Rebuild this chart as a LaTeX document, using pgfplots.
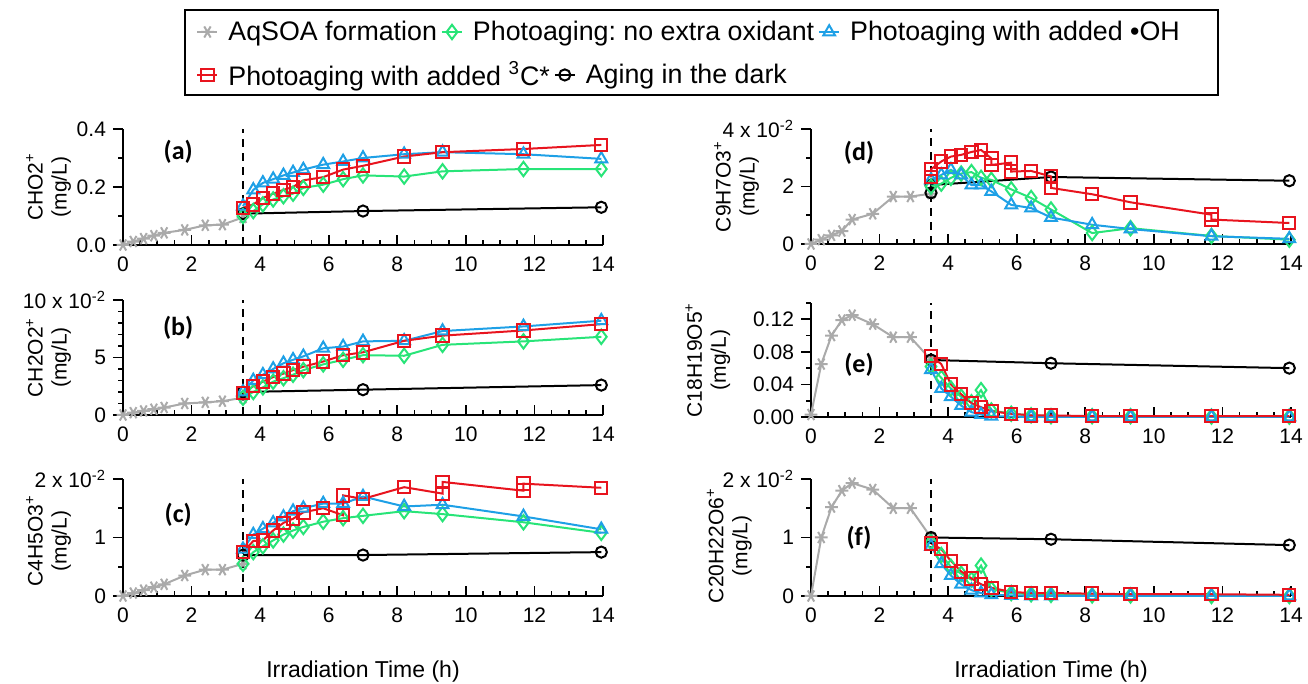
\documentclass[border=0pt]{standalone}
\usepackage{fontspec}
\setmainfont{Liberation Sans}
\newfontfamily\carlito{Carlito}
\usepackage{pgfplots}
\pgfplotsset{compat=1.18}
\frenchspacing
\definecolor{cgray}{RGB}{170,170,170}
\definecolor{cgreen}{RGB}{40,228,120}
\definecolor{cblue}{RGB}{30,160,230}
\definecolor{cred}{RGB}{232,20,30}
\tikzset{plabel/.style={font=\carlito\bfseries\fontsize{13}{15}\selectfont}}
\pgfplotsset{
  gstyle/.style={color=cgray, mark=asterisk, mark size=3.2pt, mark options={rotate=90,solid}, line width=1pt},
  nstyle/.style={color=cgreen, mark=diamond, mark size=3.6pt, mark options={solid}, line width=1pt},
  bstyle/.style={color=cblue, mark=triangle, mark size=3.4pt, mark options={solid}, line width=1pt},
  rstyle/.style={color=cred, mark=square, mark size=3.1pt, mark options={solid}, line width=1pt},
  kstyle/.style={color=black, mark=o, mark size=2.8pt, mark options={solid}, line width=1pt},
  vline/.style={black, dash pattern=on 4pt off 3pt, line width=0.9pt, mark=none, forget plot},
  panel/.style={
    scale only axis, width=240pt,
    xmin=0, xmax=14,
    axis x line=bottom, axis y line=left, axis line style={-, line width=0.9pt},
    xtick={0,2,...,14}, xticklabels={0,2,4,6,8,10,12,14},
    minor x tick num=3,
    xtick align=inside, ytick align=outside,
    major tick length=5pt, minor tick length=2.5pt,
    tick style={black, line width=0.8pt},
    tick label style={font=\fontsize{10.5}{12}\selectfont},
    xticklabel shift=2.5pt,
    ylabel style={align=center, font=\fontsize{10.5}{12}\selectfont, at={(axis description cs:#1)}, anchor=center},
    clip=false,
  },
  panel/.default={-0.155,0.5},
  legimg/.style={legend image code/.code={\draw[mark repeat=2,mark phase=2,##1] plot coordinates {(0pt,0pt) (5pt,0pt) (10pt,0pt)};}},
}
\begin{document}
\begin{tikzpicture}
\useasboundingbox (0,0) rectangle (654pt,342pt);

% ---------------- (a)
\begin{axis}[panel, at={(61.5pt,219.5pt)}, anchor=south west, height=58pt,
  ymin=0, ymax=0.4, ytick={0,0.2,0.4}, yticklabels={0.0,0.2,0.4}, minor ytick={0.1,0.3},
  ylabel={CHO2\textsuperscript{+}\\(mg/L)}]
\addplot[vline] coordinates {(3.5,0) (3.5,0.4)};
\addplot[gstyle] coordinates {(0,0.0)(0.3,0.012)(0.6,0.022)(0.9,0.032)(1.2,0.042)(1.8,0.052)(2.4,0.068)(2.9,0.07)(3.5,0.095)};
\addplot[kstyle] coordinates {(3.5,0.108)(7.0,0.117)(13.95,0.13)};
\addplot[nstyle] coordinates {(3.5,0.10)(3.8,0.117)(4.08,0.14)(4.38,0.157)(4.68,0.168)(4.96,0.177)(5.26,0.197)(5.84,0.208)(6.42,0.227)(7.0,0.24)(8.2,0.236)(9.32,0.254)(11.68,0.262)(13.95,0.262)};
\addplot[bstyle] coordinates {(3.5,0.134)(3.8,0.19)(4.08,0.214)(4.38,0.227)(4.68,0.24)(4.96,0.25)(5.26,0.26)(5.84,0.277)(6.42,0.288)(7.0,0.30)(8.2,0.313)(9.32,0.32)(11.68,0.313)(13.95,0.297)};
\addplot[rstyle] coordinates {(3.5,0.128)(3.8,0.14)(4.08,0.162)(4.38,0.177)(4.68,0.19)(4.96,0.20)(5.26,0.223)(5.84,0.234)(6.42,0.26)(7.0,0.273)(8.2,0.305)(9.32,0.32)(11.68,0.331)(13.95,0.345)};
\node[plabel] at (axis description cs:0.115,0.8) {(a)};
\end{axis}

% ---------------- (b)
\begin{axis}[panel, at={(61.5pt,134.5pt)}, anchor=south west, height=57.5pt,
  ymin=0, ymax=10, ytick={0,5,10}, yticklabels={0,5,{10 x 10\textsuperscript{-2}}}, minor ytick={1,2,3,4,6,7,8,9},
  ylabel={CH2O2\textsuperscript{+}\\(mg/L)}]
\addplot[vline] coordinates {(3.5,0) (3.5,10)};
\addplot[gstyle] coordinates {(0,0)(0.3,0.2)(0.6,0.35)(0.9,0.5)(1.2,0.65)(1.8,1.0)(2.4,1.1)(2.9,1.2)(3.5,1.5)};
\addplot[kstyle] coordinates {(3.5,2.0)(7.0,2.2)(13.95,2.6)};
\addplot[nstyle] coordinates {(3.5,1.5)(3.8,2.0)(4.08,2.4)(4.38,2.9)(4.68,3.2)(4.96,3.5)(5.26,3.9)(5.84,4.4)(6.42,4.8)(7.0,5.2)(8.2,5.15)(9.32,6.1)(11.68,6.4)(13.95,6.8)};
\addplot[bstyle] coordinates {(3.5,2.0)(3.8,3.0)(4.08,3.5)(4.38,4.0)(4.68,4.5)(4.96,4.8)(5.26,5.1)(5.84,5.8)(6.42,5.95)(7.0,6.4)(8.2,6.45)(9.32,7.3)(11.68,7.7)(13.95,8.2)};
\addplot[rstyle] coordinates {(3.5,1.9)(3.8,2.5)(4.08,2.9)(4.38,3.3)(4.68,3.6)(4.96,3.9)(5.26,4.2)(5.84,4.65)(6.42,5.2)(7.0,5.45)(8.2,6.45)(9.32,6.9)(11.68,7.35)(13.95,7.9)};
\node[plabel] at (axis description cs:0.115,0.76) {(b)};
\end{axis}

% ---------------- (c)
\begin{axis}[panel={-0.155,0.47}, at={(61.5pt,44pt)}, anchor=south west, height=58.5pt,
  ymin=0, ymax=2, ytick={0,1,2}, yticklabels={0,1,{2 x 10\textsuperscript{-2}}}, minor ytick={0.5,1.5},
  ylabel={C4H5O3\textsuperscript{+}\\(mg/L)},
  xlabel={Irradiation Time (h)},
  xlabel style={font=\fontsize{11.5}{13}\selectfont, at={(axis description cs:0.5,0)}, anchor=center, yshift=-38pt}]
\addplot[vline] coordinates {(3.5,0) (3.5,2)};
\addplot[gstyle] coordinates {(0,0)(0.3,0.05)(0.6,0.1)(0.9,0.15)(1.2,0.2)(1.8,0.35)(2.4,0.45)(2.9,0.45)(3.5,0.55)};
\addplot[kstyle] coordinates {(3.5,0.7)(7.0,0.7)(13.95,0.75)};
\addplot[nstyle] coordinates {(3.5,0.55)(3.8,0.75)(4.08,0.85)(4.38,0.95)(4.68,1.05)(4.96,1.12)(5.26,1.18)(5.84,1.27)(6.42,1.33)(7.0,1.37)(8.2,1.45)(9.32,1.4)(11.68,1.26)(13.95,1.08)};
\addplot[bstyle] coordinates {(3.5,0.8)(3.8,1.05)(4.08,1.15)(4.38,1.25)(4.68,1.35)(4.96,1.45)(5.26,1.5)(5.84,1.58)(6.42,1.58)(7.0,1.7)(8.2,1.53)(9.32,1.56)(11.68,1.36)(13.95,1.14)};
\addplot[rstyle] coordinates {(3.5,0.75)(3.8,0.94)(4.08,0.95)(4.38,1.12)(4.68,1.25)(4.96,1.32)(5.26,1.43)(5.84,1.5)(6.42,1.38)(6.42,1.72)(7.0,1.66)(8.2,1.86)(9.32,1.75)(9.32,1.95)(11.68,1.8)(11.68,1.92)(13.95,1.85)};
\node[plabel] at (axis description cs:0.115,0.69) {(c)};
\end{axis}

% ---------------- (d)
\begin{axis}[panel, at={(405.5pt,220pt)}, anchor=south west, height=57.5pt,
  ymin=0, ymax=4, ytick={0,2,4}, yticklabels={0,2,{4 x 10\textsuperscript{-2}}}, minor ytick={1,3},
  ylabel={C9H7O3\textsuperscript{+}\\(mg/L)}]
\addplot[vline] coordinates {(3.5,0) (3.5,4)};
\addplot[gstyle] coordinates {(0,0)(0.3,0.15)(0.6,0.3)(0.9,0.45)(1.2,0.85)(1.8,1.05)(2.4,1.65)(2.9,1.65)(3.5,1.75)};
\addplot[kstyle] coordinates {(3.5,1.78)(3.5,2.05)(7.0,2.33)(13.95,2.2)};
\addplot[nstyle] coordinates {(3.5,2.0)(3.8,2.1)(4.08,2.3)(4.38,2.45)(4.68,2.5)(4.96,2.3)(5.26,2.23)(5.84,1.9)(6.42,1.6)(7.0,1.2)(8.2,0.38)(9.32,0.55)(11.68,0.28)(13.95,0.15)};
\addplot[bstyle] coordinates {(3.5,2.23)(3.8,2.4)(4.08,2.58)(4.38,2.4)(4.68,2.05)(4.96,2.05)(5.26,1.83)(5.84,1.36)(6.42,1.25)(7.0,0.92)(8.2,0.67)(9.32,0.52)(11.68,0.27)(13.95,0.18)};
\addplot[rstyle] coordinates {(3.5,2.32)(3.5,2.6)(3.8,2.87)(4.08,3.04)(4.38,3.1)(4.68,3.2)(4.96,3.27)(5.26,2.98)(5.26,2.75)(5.84,2.83)(5.84,2.52)(6.42,2.54)(7.0,2.35)(7.0,1.95)(8.2,1.73)(9.32,1.45)(11.68,1.02)(11.68,0.85)(13.95,0.73)};
\node[plabel] at (axis description cs:0.1,0.79) {(d)};
\end{axis}

% ---------------- (e)
\begin{axis}[panel={-0.215,0.5}, at={(405.5pt,133.5pt)}, anchor=south west, height=57pt,
  ymin=0, ymax=0.14, ytick={0,0.04,0.08,0.12}, yticklabels={0.00,0.04,0.08,0.12}, minor ytick={0.02,0.06,0.10,0.14},
  ylabel={C18H19O5\textsuperscript{+}\\(mg/L)}]
\addplot[vline] coordinates {(3.5,0) (3.5,0.14)};
\addplot[gstyle] coordinates {(0,0.003)(0.3,0.065)(0.6,0.10)(0.9,0.119)(1.2,0.125)(1.8,0.114)(2.4,0.098)(2.9,0.098)(3.5,0.07)};
\addplot[kstyle] coordinates {(3.5,0.07)(7.0,0.066)(13.95,0.06)};
\addplot[nstyle] coordinates {(3.5,0.062)(3.8,0.048)(4.08,0.035)(4.38,0.025)(4.68,0.018)(4.96,0.033)(5.26,0.008)(5.84,0.004)(6.42,0.002)(7.0,0.001)(8.2,0.001)(9.32,0.001)(11.68,0.0005)(13.95,0.0005)};
\addplot[bstyle] coordinates {(3.5,0.058)(3.8,0.035)(4.08,0.025)(4.38,0.014)(4.68,0.006)(4.96,0.003)(5.26,0.001)(5.84,0.0005)(6.42,0)(7.0,0)(8.2,0)(9.32,0)(11.68,0)(13.95,0)};
\addplot[rstyle] coordinates {(3.5,0.075)(3.8,0.065)(4.08,0.04)(4.38,0.028)(4.68,0.017)(4.96,0.012)(5.26,0.007)(5.84,0.004)(6.42,0.002)(7.0,0.002)(8.2,0.001)(9.32,0.001)(11.68,0.001)(13.95,0.001)};
\node[plabel] at (axis description cs:0.1,0.46) {(e)};
\end{axis}

% ---------------- (f)
\begin{axis}[panel={-0.17,0.43}, at={(405.5pt,44pt)}, anchor=south west, height=58.5pt,
  ymin=0, ymax=2, ytick={0,1,2}, yticklabels={0,1,{2 x 10\textsuperscript{-2}}}, minor ytick={0.5,1.5},
  ylabel={C20H22O6\textsuperscript{+}\\(mg/L)},
  xlabel={Irradiation Time (h)},
  xlabel style={font=\fontsize{11.5}{13}\selectfont, at={(axis description cs:0.5,0)}, anchor=center, yshift=-38pt}]
\addplot[vline] coordinates {(3.5,0) (3.5,2)};
\addplot[gstyle] coordinates {(0,0)(0.3,1.0)(0.6,1.52)(0.9,1.8)(1.2,1.93)(1.8,1.82)(2.4,1.5)(2.9,1.5)(3.5,1.0)};
\addplot[kstyle] coordinates {(3.5,1.0)(7.0,0.97)(13.95,0.87)};
\addplot[nstyle] coordinates {(3.5,0.92)(3.8,0.7)(4.08,0.5)(4.38,0.38)(4.68,0.28)(4.96,0.52)(5.26,0.12)(5.84,0.05)(6.42,0.03)(7.0,0.02)(8.2,0.01)(9.32,0.01)(11.68,0)(13.95,0)};
\addplot[bstyle] coordinates {(3.5,0.85)(3.8,0.55)(4.08,0.35)(4.38,0.2)(4.68,0.1)(4.96,0.05)(5.26,0.02)(5.84,0.01)(6.42,0)(7.0,0)(8.2,0)(9.32,0)(11.68,0)(13.95,0)};
\addplot[rstyle] coordinates {(3.5,0.9)(3.8,0.8)(4.08,0.6)(4.38,0.42)(4.68,0.3)(4.96,0.2)(5.26,0.14)(5.84,0.07)(6.42,0.05)(7.0,0.05)(8.2,0.04)(9.32,0.03)(11.68,0.03)(13.95,0.02)};
\node[plabel] at (axis description cs:0.1,0.5) {(f)};
\end{axis}

% ---------------- legend
\begin{axis}[hide axis, scale only axis, width=654pt, height=342pt, at={(0pt,0pt)}, anchor=south west,
  xmin=0, xmax=1, ymin=0, ymax=1, legimg, legend columns=-1,
  legend style={draw=none, fill=none, font=\fontsize{13.4}{15}\selectfont,
    at={(axis description cs:0.1453,0.9532)}, anchor=west}]
\addlegendimage{gstyle}\addlegendentry{\hspace{3pt}AqSOA formation}
\addlegendimage{nstyle}\addlegendentry{\hspace{3pt}Photoaging: no extra oxidant}
\addlegendimage{bstyle}\addlegendentry{\hspace{3pt}Photoaging with added •OH}
\end{axis}
\begin{axis}[hide axis, scale only axis, width=654pt, height=342pt, at={(0pt,0pt)}, anchor=south west,
  xmin=0, xmax=1, ymin=0, ymax=1, legimg, legend columns=-1,
  legend style={draw=none, fill=none, font=\fontsize{13.4}{15}\selectfont,
    at={(axis description cs:0.1453,0.8904)}, anchor=west}]
\addlegendimage{rstyle}\addlegendentry{\hspace{3pt}Photoaging with added \textsuperscript{3}C*\hspace{5pt}}
\addlegendimage{kstyle}\addlegendentry{\hspace{3pt}Aging in the dark}
\end{axis}
\draw[line width=1pt] (92.5pt,337pt) rectangle (609pt,294.5pt);
\end{tikzpicture}
\end{document}
